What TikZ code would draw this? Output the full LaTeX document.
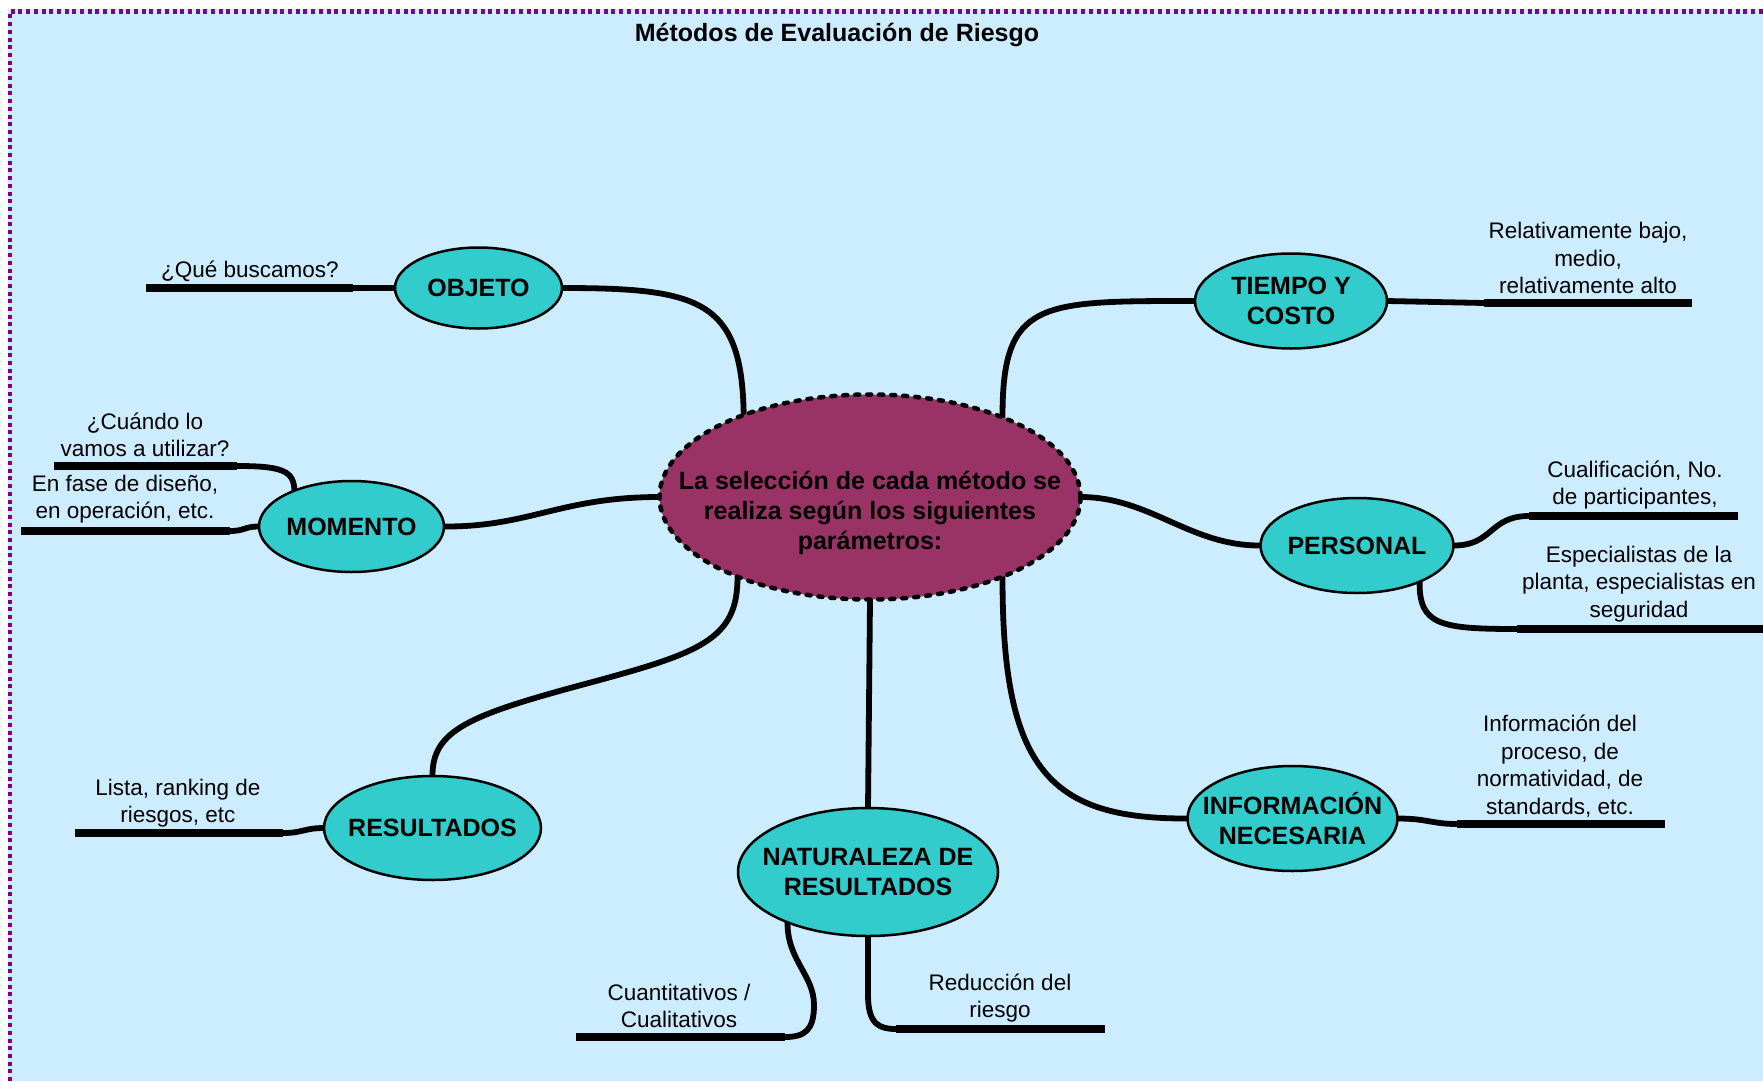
\documentclass[tikz,border=0pt]{standalone}
\usepackage{fontspec}
\setmainfont{Liberation Sans}
\usetikzlibrary{shapes.geometric}
\definecolor{bgblue}{HTML}{CCECFF}
\definecolor{topicfill}{HTML}{33CCCC}
\definecolor{centerfill}{HTML}{993366}
\definecolor{framepurple}{HTML}{800080}
\pgfdeclarelayer{bglayer}
\pgfdeclarelayer{edgelayer}
\pgfsetlayers{bglayer,edgelayer,main}
\begin{document}
\begin{tikzpicture}[x=1pt,y=-1pt,
  topic/.style={ellipse, draw=black, line width=2.5pt, fill=topicfill, inner sep=0pt, outer sep=0pt},
  ttext/.style={font=\fontsize{25}{30}\selectfont\bfseries, align=center, inner sep=0pt},
  leaf/.style={font=\fontsize{22.5}{27.5}\selectfont, align=center, inner sep=0pt},
  conn/.style={line width=5.8pt, line cap=round, line join=round},
  uline/.style={line width=8pt},
]
\useasboundingbox (0,0) rectangle (1763,1081);
\begin{pgfonlayer}{bglayer}
\fill[white] (0,0) rectangle (1763,1081);
\fill[bgblue] (8,9) rectangle (1763,1081);
\draw[framepurple, line width=4.5pt, dash pattern=on 4pt off 3.7pt] (10,1081) -- (10,11.5) -- (1763,11.5);
\end{pgfonlayer}

\node[ttext, anchor=base] (title) at (837,42) {Métodos de Evaluación de Riesgo};

% central node
\node[ellipse, fill=centerfill, draw=black, line width=4.5pt, dash pattern=on 4pt off 8pt, line cap=round,
      minimum width=421pt, minimum height=205pt, inner sep=0pt, outer sep=0pt,
      label={[ttext, yshift=-16pt]center:{La selección de cada método se\\realiza según los siguientes\\parámetros:}}] (cen) at (870,497) {};

% topic nodes
\node[topic, minimum width=167pt, minimum height=81pt, label={[ttext]center:OBJETO}] (obj) at (478.5,288) {};
\node[topic, minimum width=185pt, minimum height=91pt, label={[ttext]center:MOMENTO}] (mom) at (351.5,526.5) {};
\node[topic, minimum width=192pt, minimum height=95pt, label={[ttext]center:{TIEMPO Y\\COSTO}}] (tie) at (1291,301) {};
\node[topic, minimum width=193pt, minimum height=95pt, label={[ttext]center:PERSONAL}] (per) at (1357,545.5) {};
\node[topic, minimum width=210pt, minimum height=105pt, label={[ttext]center:{INFORMACIÓN\\NECESARIA}}] (inf) at (1292.5,818.5) {};
\node[topic, minimum width=260pt, minimum height=128pt, label={[ttext]center:{NATURALEZA DE\\RESULTADOS}}] (nat) at (868,872) {};
\node[topic, minimum width=217pt, minimum height=104pt, label={[ttext]center:RESULTADOS}] (res) at (432.5,828) {};

% leaf texts
\node[leaf, anchor=base] (lobj) at (250,277) {¿Qué buscamos?};
\node[leaf] (lmom1) at (145,435) {¿Cuándo lo\\vamos a utilizar?};
\node[leaf] (lmom2) at (125,499) {En fase de diseño,\\en operación, etc.};
\node[leaf] (lres) at (178,803) {Lista, ranking de\\riesgos, etc};
\node[leaf] (lnat1) at (679,1006) {Cuantitativos /\\Cualitativos};
\node[leaf] (lnat2) at (1000,998) {Reducción del\\riesgo};
\node[leaf] (linf) at (1560,766) {Información del\\proceso, de\\normatividad, de\\standards, etc.};
\node[leaf] (lper1) at (1635,485) {Cualificación, No.\\de participantes,};
\node[leaf] (lper2) at (1639,584) {Especialistas de la\\planta, especialistas en\\seguridad};
\node[leaf] (ltie) at (1588,258) {Relativamente bajo,\\medio,\\relativamente alto};

% free ends of branches
\coordinate (objA) at (146,288);   \coordinate (objB) at (353,288);
\coordinate (momA) at (54,466);    \coordinate (momB) at (237,466);
\coordinate (momC) at (21,531);    \coordinate (momD) at (230,531);
\coordinate (resA) at (75,833);    \coordinate (resB) at (283,833);
\coordinate (natA) at (576,1037);  \coordinate (natB) at (785,1037);
\coordinate (natC) at (896,1029);  \coordinate (natD) at (1105,1029);
\coordinate (infA) at (1457,824);  \coordinate (infB) at (1665,824);
\coordinate (perA) at (1529,516);  \coordinate (perB) at (1738,516);
\coordinate (perC) at (1517,629);  \coordinate (perD) at (1763,629);
\coordinate (tieA) at (1484,303);  \coordinate (tieB) at (1692,303);

\begin{pgfonlayer}{edgelayer}
% main connectors
\draw[conn] (obj.east) .. controls (700,288) and (742,300) .. (cen.147);
\draw[conn] (mom.east) .. controls (530,527) and (560,497) .. (cen.west);
\draw[conn] (res.north) .. controls (432,730) and (470,715) .. (585,684)
            .. controls (700,653) and (738,640) .. (cen.211);
\draw[conn] (cen.south) -- (nat.north);
\draw[conn] (cen.-31) .. controls (1002,770) and (1050,819) .. (inf.west);
\draw[conn] (cen.east) .. controls (1150,497) and (1190,546) .. (per.west);
\draw[conn] (cen.31) .. controls (1002,300) and (1040,301) .. (tie.west);

% branch connectors
\draw[conn] (objB) -- (obj.west);
\draw[conn] (momB) .. controls +(45,0) and +(0,-20) .. (mom.148);
\draw[conn] (momD) .. controls +(15,0) and +(-15,0) .. (mom.west);
\draw[conn] (resB) .. controls +(20,0) and +(-20,0) .. (res.west);
\draw[conn] (nat.212) .. controls (787,960) and (814,975) .. (814,1005)
            .. controls (814,1030) and (805,1037) .. (natB);
\draw[conn] (nat.south) -- (868,995) .. controls (868,1025) and (880,1029) .. (natC);
\draw[conn] (inf.east) .. controls +(30,0) and +(-25,0) .. (infA);
\draw[conn] (per.east) .. controls +(40,0) and +(-40,0) .. (perA);
\draw[conn] (per.-30) .. controls (1419,625) and (1440,629) .. (perC);
\draw[conn] (tie.east) -- (tieA);

% underlines
\draw[uline] (objA) -- (objB);
\draw[uline] (momA) -- (momB);
\draw[uline] (momC) -- (momD);
\draw[uline] (resA) -- (resB);
\draw[uline] (natA) -- (natB);
\draw[uline] (natC) -- (natD);
\draw[uline] (infA) -- (infB);
\draw[uline] (perA) -- (perB);
\draw[uline] (perC) -- (perD);
\draw[uline] (tieA) -- (tieB);
\end{pgfonlayer}
\end{tikzpicture}
\end{document}
